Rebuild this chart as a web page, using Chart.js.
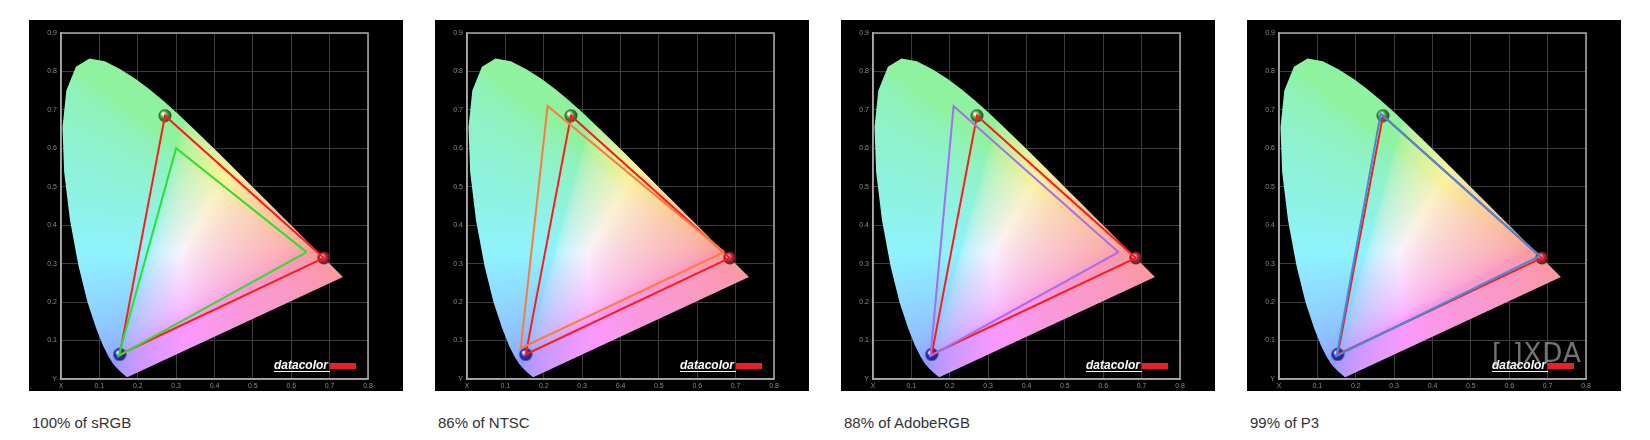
<!DOCTYPE html>
<html>
<head>
<meta charset="utf-8">
<script src="https://cdn.jsdelivr.net/npm/chart.js@4/dist/chart.umd.min.js"></script>
<style>
  body { margin: 0; background: #fff; width: 1650px; height: 440px; position: relative; overflow: hidden; }
  .panel { position: absolute; top: 20px; width: 374px; height: 371px; background: #000; }
  .caption { position: absolute; top: 414px; font: 15px "Liberation Sans", Arial, sans-serif; color: #333; }
  .xda { position: absolute; left: 1492px; top: 338px; font: 26px "DejaVu Sans", sans-serif; color: rgba(210,210,215,0.55); letter-spacing: 1px; }
</style>
</head>
<body>
<div class="panel" style="left:29px"><canvas id="c0"></canvas></div>
<div class="panel" style="left:435px"><canvas id="c1"></canvas></div>
<div class="panel" style="left:841px"><canvas id="c2"></canvas></div>
<div class="panel" style="left:1247px"><canvas id="c3"></canvas></div>
<div class="caption" style="left:32px">100% of sRGB</div>
<div class="caption" style="left:438px">86% of NTSC</div>
<div class="caption" style="left:844px">88% of AdobeRGB</div>
<div class="caption" style="left:1250px">99% of P3</div>
<div class="xda">[ ]XDA</div>
<script>
// CIE 1931 spectral locus (x, y), 380..700 nm, closed by the purple line
const locusX = [0.1741, 0.1714, 0.1644, 0.1566, 0.1440, 0.1355, 0.1241, 0.1096, 0.0913, 0.0687, 0.0454, 0.0235, 0.0082, 0.0039, 0.0139, 0.0389, 0.0743, 0.1142, 0.1547, 0.1929, 0.2296, 0.2658, 0.3016, 0.3373, 0.3731, 0.4087, 0.4441, 0.4788, 0.5125, 0.5448, 0.5752, 0.6029, 0.6270, 0.6482, 0.6658, 0.6915, 0.7079, 0.7190, 0.7300, 0.7347, 0.1741];
const locusY = [0.0050, 0.0051, 0.0109, 0.0177, 0.0297, 0.0399, 0.0578, 0.0868, 0.1327, 0.2007, 0.2950, 0.4127, 0.5384, 0.6548, 0.7502, 0.8120, 0.8338, 0.8262, 0.8059, 0.7816, 0.7543, 0.7243, 0.6923, 0.6589, 0.6245, 0.5896, 0.5547, 0.5202, 0.4866, 0.4544, 0.4242, 0.3965, 0.3725, 0.3514, 0.3340, 0.3083, 0.2920, 0.2809, 0.2700, 0.2653, 0.0050];

// measured primaries (R, G, B) – same display in every panel
const measuredX = [0.685, 0.271, 0.153];
const measuredY = [0.315, 0.685, 0.064];

// reference gamuts (R, G, B)
const gamutNames = ["sRGB", "NTSC", "AdobeRGB", "P3"];
const gamutX = [[0.64, 0.30, 0.15], [0.67, 0.21, 0.14], [0.64, 0.21, 0.15], [0.68, 0.265, 0.15]];
const gamutY = [[0.33, 0.60, 0.06], [0.33, 0.71, 0.08], [0.33, 0.71, 0.06], [0.32, 0.69, 0.06]];
const gamutColors = ["#2ee02e", "#ff7a3a", "#a86cf0", "#3d8fe0"];

const xTicks = ["X", "0.1", "0.2", "0.3", "0.4", "0.5", "0.6", "0.7", "0.8"];
const yTicks = ["Y", "0.1", "0.2", "0.3", "0.4", "0.5", "0.6", "0.7", "0.8", "0.9"];

function sphere(color) {
    const c = document.createElement("canvas");
    c.width = c.height = 14;
    const g = c.getContext("2d");
    const grad = g.createRadialGradient(5, 5, 1, 7, 7, 7);
    grad.addColorStop(0, "rgba(255,255,255,0.8)");
    grad.addColorStop(0.35, color);
    grad.addColorStop(1, "rgba(30,30,30,0.9)");
    g.fillStyle = grad;
    g.beginPath(); g.arc(7, 7, 6.5, 0, Math.PI * 2); g.fill();
    return c;
}
const sphereImgs = [sphere("#e0203a"), sphere("#58b048"), sphere("#2a2ae0")];

const toPts = (xs, ys) => xs.map((x, i) => ({ x: x, y: ys[i] }));

// paints the horseshoe with pastel chromaticity colours
const horseshoe = {
    id: "horseshoe",
    beforeDatasetsDraw(chart) {
        const { ctx, chartArea: a, scales } = chart;
        const pts = chart.getDatasetMeta(0).data;
        const w = Math.round(a.right - a.left), h = Math.round(a.bottom - a.top);
        const off = document.createElement("canvas");
        off.width = w; off.height = h;
        const octx = off.getContext("2d");
        const img = octx.createImageData(w, h);
        const gam = v => v <= 0.0031308 ? 12.92 * v : 1.055 * Math.pow(v, 1 / 2.4) - 0.055;
        for (let j = 0; j < h; j++) {
            const y = Math.max(scales.y.getValueForPixel(a.top + j), 0.003);
            for (let i = 0; i < w; i++) {
                const x = scales.x.getValueForPixel(a.left + i);
                const X = x / y, Z = (1 - x - y) / y;
                let r = 3.2406 * X - 1.5372 - 0.4986 * Z;
                let g = -0.9689 * X + 1.8758 + 0.0415 * Z;
                let b = 0.0557 * X - 0.2040 + 1.0570 * Z;
                r = Math.max(r, 0); g = Math.max(g, 0); b = Math.max(b, 0);
                const m = Math.max(r, g, b) || 1;
                const k = (i + j * w) * 4;
                img.data[k] = 255 * (0.56 + 0.42 * gam(r / m));
                img.data[k + 1] = 255 * (0.60 + 0.35 * gam(g / m));
                img.data[k + 2] = 255 * (0.62 + 0.38 * gam(b / m));
                img.data[k + 3] = 255;
            }
        }
        octx.putImageData(img, 0, 0);
        ctx.save();
        ctx.beginPath();
        pts.forEach((p, i) => i ? ctx.lineTo(p.x, p.y) : ctx.moveTo(p.x, p.y));
        ctx.closePath();
        ctx.clip();
        ctx.drawImage(off, a.left, a.top);
        ctx.restore();
    },
    afterDraw(chart) {
        const { ctx, chartArea: a } = chart;
        ctx.save();
        ctx.font = "italic bold 12px 'Liberation Sans', Arial, sans-serif";
        ctx.fillStyle = "#fff";
        ctx.textBaseline = "alphabetic";
        const tx = a.right - 94, ty = a.bottom - 10;
        ctx.fillText("datacolor", tx, ty);
        ctx.fillRect(tx, ty + 2, 56, 1);
        ctx.fillStyle = "#e8202a";
        ctx.fillRect(tx + 56, ty - 6, 26, 6);
        ctx.restore();
    }
};

gamutNames.forEach((name, n) => {
    new Chart(document.getElementById("c" + n), {
        type: "scatter",
        data: {
            datasets: [
                { label: "locus", data: toPts(locusX, locusY), showLine: true, borderWidth: 0, pointRadius: 0 },
                { label: name, data: toPts(gamutX[n].concat(gamutX[n][0]), gamutY[n].concat(gamutY[n][0])), showLine: true, borderColor: gamutColors[n], borderWidth: 2, pointRadius: 0 },
                { label: "measured", data: toPts(measuredX.concat(measuredX[0]), measuredY.concat(measuredY[0])), showLine: true, borderColor: "#ff1a1a", borderWidth: 2, pointRadius: 0 },
                { label: "primaries", data: toPts(measuredX, measuredY), pointStyle: sphereImgs, pointRadius: 7 }
            ]
        },
        options: {
            responsive: true,
            maintainAspectRatio: false,
            animation: false,
            layout: { padding: { left: 4, top: 13, right: 35, bottom: 0 } },
            plugins: { legend: { display: false }, tooltip: { enabled: false } },
            scales: {
                x: {
                    min: 0, max: 0.8,
                    afterFit: s => { s.height = 12; },
                    ticks: { stepSize: 0.1, color: "#8a8a8a", font: { size: 7 }, padding: 3, callback: (v, i) => xTicks[i] },
                    grid: { color: "#3c3c3c", lineWidth: 1, drawTicks: false },
                    border: { color: "#a8a8a8", width: 1.5 }
                },
                y: {
                    min: 0, max: 0.9,
                    afterFit: s => { s.width = 28; },
                    ticks: { stepSize: 0.1, color: "#8a8a8a", font: { size: 7 }, padding: 4, callback: (v, i) => yTicks[i] },
                    grid: { color: "#3c3c3c", lineWidth: 1, drawTicks: false },
                    border: { color: "#a8a8a8", width: 1.5 }
                }
            }
        },
        plugins: [horseshoe, {
            id: "frame",
            afterDatasetsDraw(chart) {
                const { ctx, chartArea: a } = chart;
                ctx.save();
                ctx.strokeStyle = "#a8a8a8";
                ctx.lineWidth = 1.5;
                ctx.strokeRect(a.left, a.top, a.right - a.left, a.bottom - a.top);
                ctx.restore();
            }
        }]
    });
});
</script>
</body>
</html>
